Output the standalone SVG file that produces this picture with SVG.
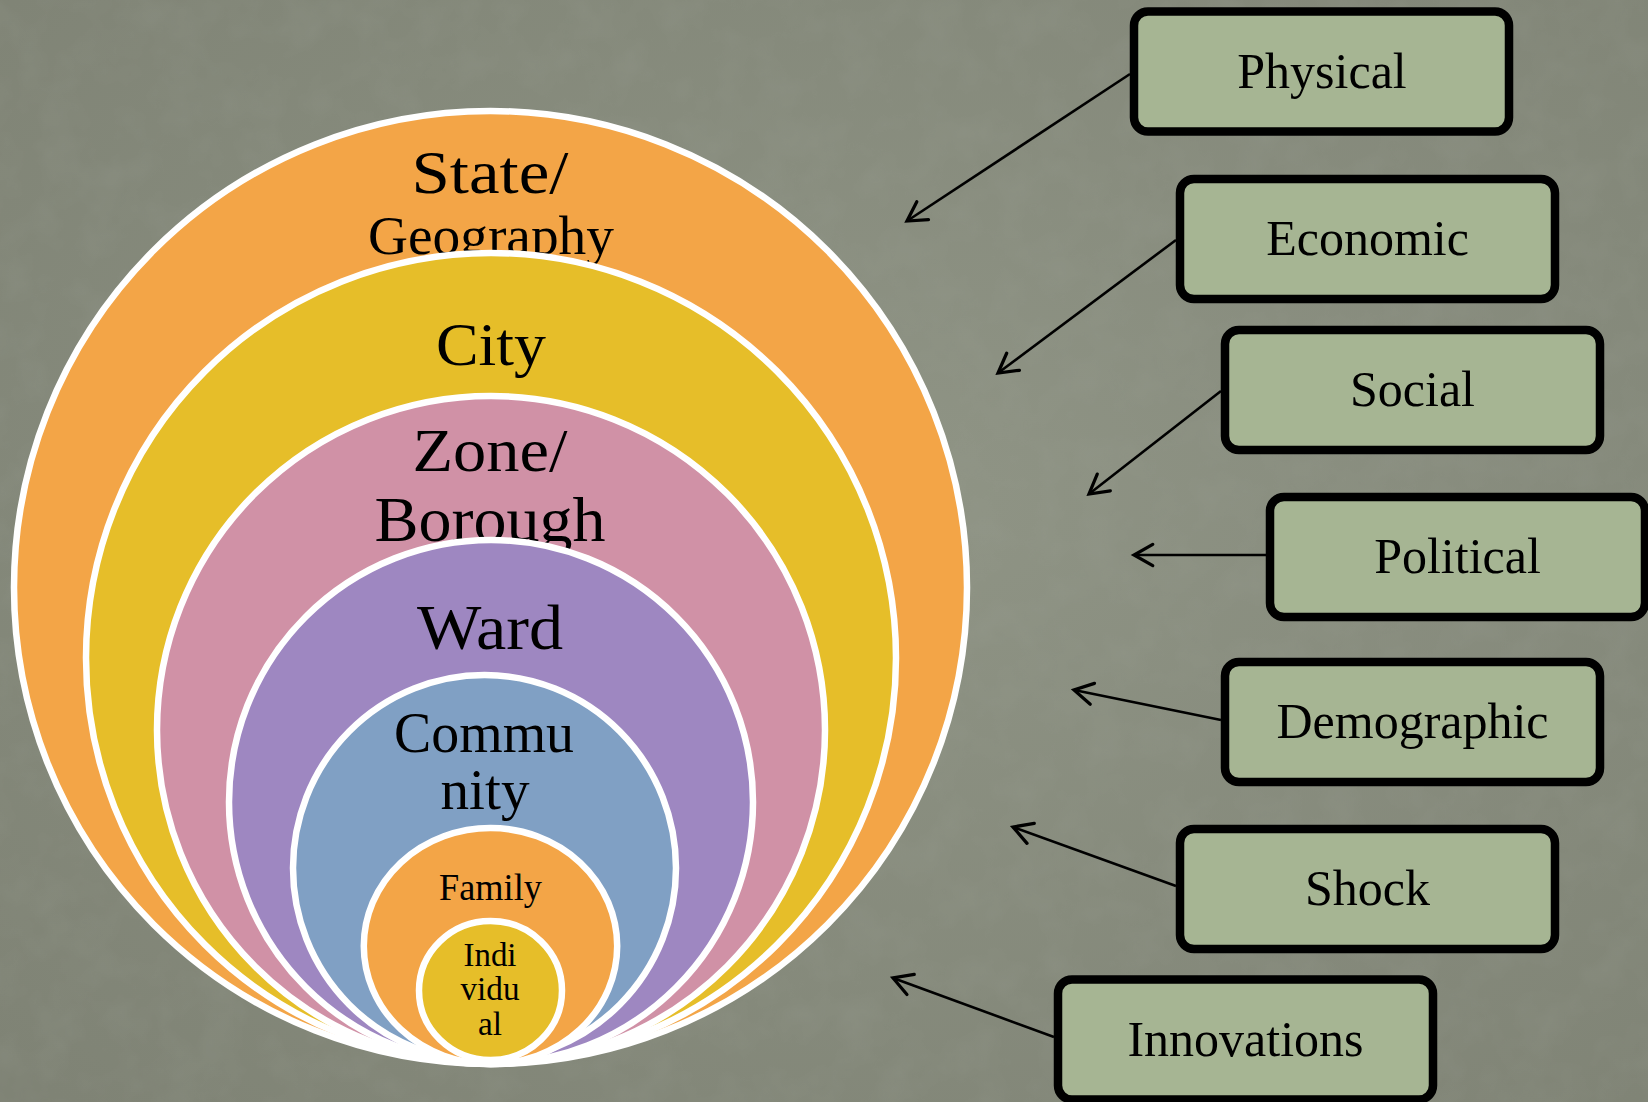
<svg xmlns="http://www.w3.org/2000/svg" width="1648" height="1102" viewBox="0 0 1648 1102">
  <defs>
    <radialGradient id="bg" cx="55%" cy="45%" r="75%">
      <stop offset="0" stop-color="#8f9485"/>
      <stop offset="1" stop-color="#7f8375"/>
    </radialGradient>
    <filter id="grain" x="0" y="0" width="100%" height="100%">
      <feTurbulence type="fractalNoise" baseFrequency="0.025" numOctaves="3" seed="7" result="n"/>
      <feColorMatrix in="n" type="matrix" values="0 0 0 0 0.35  0 0 0 0 0.37  0 0 0 0 0.32  0 0 0 -1.2 0.75"/>
    </filter>
    <marker id="arr" markerUnits="userSpaceOnUse" markerWidth="30" markerHeight="30" viewBox="-18 -12 22 24" refX="0" refY="0" orient="auto" overflow="visible">
      <path d="M-15,-8.5 L0,0 L-15,8.5" fill="none" stroke="#000" stroke-width="2.6" stroke-linecap="round" stroke-linejoin="miter"/>
    </marker>
  </defs>
  <style>
    .ring { stroke: #ffffff; stroke-width: 6.5; }
    .orange { fill: #f3a547; }
    .yellow { fill: #e6be29; }
    .pink { fill: #d091a6; }
    .purple { fill: #9e87c1; }
    .blue { fill: #80a0c4; }
    .ct { font-family: "Liberation Serif", "Times New Roman", serif; fill: #000; text-anchor: middle; }
    .box { fill: #a6b593; stroke: #000; stroke-width: 8.5; }
    .bt { font-family: "Liberation Serif", "Times New Roman", serif; font-size: 50px; fill: #000; text-anchor: middle; }
    .conn { stroke: #000; stroke-width: 2.6; fill: none; marker-end: url(#arr); }
  </style>

  <rect x="0" y="0" width="1648" height="1102" fill="url(#bg)"/>
  <rect x="0" y="0" width="1648" height="1102" filter="url(#grain)" opacity="0.25"/>

  <g id="state">
    <circle class="ring orange" cx="490.5" cy="587.5" r="476.5"/>
    <text class="ct" x="490" y="193" font-size="61" textLength="157" lengthAdjust="spacingAndGlyphs">State/</text>
    <text class="ct" x="491" y="254" font-size="54" textLength="246" lengthAdjust="spacingAndGlyphs">Geography</text>
  </g>
  <g id="city">
    <circle class="ring yellow" cx="491" cy="658" r="405"/>
    <text class="ct" x="491" y="365" font-size="62" textLength="110" lengthAdjust="spacingAndGlyphs">City</text>
  </g>
  <g id="zone">
    <circle class="ring pink" cx="491" cy="730" r="334"/>
    <text class="ct" x="490" y="471" font-size="61" textLength="155" lengthAdjust="spacingAndGlyphs">Zone/</text>
    <text class="ct" x="490" y="541" font-size="64" textLength="231" lengthAdjust="spacingAndGlyphs">Borough</text>
  </g>
  <g id="ward">
    <circle class="ring purple" cx="491" cy="802" r="262"/>
    <text class="ct" x="490" y="649" font-size="63" textLength="146" lengthAdjust="spacingAndGlyphs">Ward</text>
  </g>
  <g id="community">
    <ellipse class="ring blue" cx="484.5" cy="868" rx="191.5" ry="193"/>
    <text class="ct" x="484" y="752" font-size="56" textLength="180" lengthAdjust="spacingAndGlyphs">Commu</text>
    <text class="ct" x="485" y="809" font-size="56" textLength="89" lengthAdjust="spacingAndGlyphs">nity</text>
  </g>
  <g id="family">
    <ellipse class="ring orange" cx="490.5" cy="946" rx="126.7" ry="118"/>
    <text class="ct" x="490.5" y="900" font-size="37" textLength="103" lengthAdjust="spacingAndGlyphs">Family</text>
  </g>
  <g id="individual">
    <ellipse class="ring yellow" cx="490.5" cy="990.5" rx="71.5" ry="69.5"/>
    <text class="ct" x="490" y="966" font-size="33" textLength="53" lengthAdjust="spacingAndGlyphs">Indi</text>
    <text class="ct" x="490" y="1000" font-size="33" textLength="59" lengthAdjust="spacingAndGlyphs">vidu</text>
    <text class="ct" x="490" y="1035" font-size="33" textLength="24" lengthAdjust="spacingAndGlyphs">al</text>
  </g>

  <g id="connectors">
    <line class="conn" x1="1130" y1="74" x2="907" y2="221"/>
    <line class="conn" x1="1176" y1="240" x2="998" y2="373"/>
    <line class="conn" x1="1221" y1="391" x2="1089" y2="494"/>
    <line class="conn" x1="1266" y1="555" x2="1134" y2="555"/>
    <line class="conn" x1="1221" y1="720" x2="1074" y2="690"/>
    <line class="conn" x1="1176" y1="886" x2="1013" y2="827"/>
    <line class="conn" x1="1054" y1="1037" x2="893" y2="978"/>
  </g>

  <g id="physical">
    <rect class="box" x="1134" y="11.5" width="375" height="120" rx="14"/>
    <text class="bt" x="1322" y="88">Physical</text>
  </g>
  <g id="economic">
    <rect class="box" x="1180" y="179" width="375" height="120" rx="14"/>
    <text class="bt" x="1367.5" y="255">Economic</text>
  </g>
  <g id="social">
    <rect class="box" x="1225" y="330" width="375" height="120" rx="14"/>
    <text class="bt" x="1412.5" y="406">Social</text>
  </g>
  <g id="political">
    <rect class="box" x="1270" y="497" width="375" height="120" rx="14"/>
    <text class="bt" x="1457.5" y="573">Political</text>
  </g>
  <g id="demographic">
    <rect class="box" x="1225" y="662" width="375" height="120" rx="14"/>
    <text class="bt" x="1412.5" y="738">Demographic</text>
  </g>
  <g id="shock">
    <rect class="box" x="1180" y="829" width="375" height="120" rx="14"/>
    <text class="bt" x="1367.5" y="905">Shock</text>
  </g>
  <g id="innovations">
    <rect class="box" x="1058" y="979.5" width="375" height="120" rx="14"/>
    <text class="bt" x="1245.5" y="1056">Innovations</text>
  </g>
</svg>
